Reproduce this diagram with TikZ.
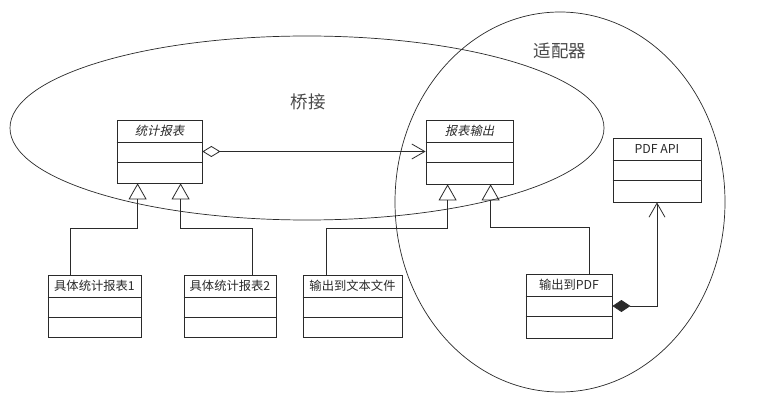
\documentclass[tikz,border=0pt]{standalone}
\usepackage{fontspec}
\setmainfont{Noto Sans CJK SC}
\newfontfamily\cjkit[FakeSlant=0.22]{Noto Sans CJK SC}
\usetikzlibrary{arrows.meta,shapes.geometric}
\definecolor{ink}{HTML}{2A2A2A}
\tikzset{
  classbox/.style={draw=ink, line width=0.8pt, rectangle, inner sep=0pt},
  cname/.style={anchor=center, inner sep=0pt, text=ink, font=\fontsize{12.3}{14}\selectfont},
  zone/.style={draw=ink, line width=0.7pt, ellipse, inner sep=0pt},
  zlabel/.style={inner sep=0pt, text=ink!85, font=\fontsize{17.5}{20}\selectfont},
  conn/.style={draw=ink, line width=0.8pt},
  inh/.style={conn, -{Triangle[open, length=16pt, width=18pt]}},
  agg/.style={conn, {Diamond[open, length=18pt, width=11pt]}-{Straight Barb[length=13pt, width=15pt]}},
  comp/.style={conn, {Diamond[length=18pt, width=12pt]}-{Straight Barb[length=14pt, width=16pt]}},
}
\newcommand{\umlcls}[6]{% name, cx, cy, w, h, text
  \node[classbox, minimum width=#4pt, minimum height=#5pt] (#1) at (#2,#3) {};
  \draw[ink, line width=0.8pt] ([yshift=-23pt]#1.north west) -- ([yshift=-23pt]#1.north east);
  \draw[ink, line width=0.8pt] ([yshift=-43pt]#1.north west) -- ([yshift=-43pt]#1.north east);
  \node[cname] (#1t) at ([yshift=-11.5pt]#1.north) {#6};
}
\begin{document}
\begin{tikzpicture}[x=1pt,y=-1pt]
\useasboundingbox[fill=white] (0,0) rectangle (770,411);
% zones
\node[zone, minimum width=594pt, minimum height=184pt] (bridge) at (307,128) {};
\node[zone, minimum width=330pt, minimum height=380pt] (adapter) at (560,202) {};
\node[zlabel] (bridgel) at (308,102) {桥接};
\node[zlabel] (adapterl) at (560,51) {适配器};
% classes
\umlcls{A}{159.5}{151.5}{85}{63}{\cjkit 统计报表}
\umlcls{B}{469.5}{152}{87}{64}{\cjkit 报表输出}
\umlcls{C}{657}{170}{88}{64}{PDF API}
\umlcls{D}{569}{306}{86}{64}{输出到PDF}
\umlcls{E}{352.5}{306}{99}{62}{输出到文本文件}
\umlcls{F}{94.5}{306}{93}{62}{具体统计报表1}
\umlcls{G}{230}{306}{92}{62}{具体统计报表2}
% generalizations
\draw[inh] ([xshift=23pt]F.north west) -- ++(0,-46) -| ([xshift=21pt]A.south west);
\draw[inh] ([xshift=69pt]G.north west) -- ++(0,-46) -| ([xshift=64pt]A.south west);
\draw[inh] ([xshift=24pt]E.north west) -- ++(0,-46) -| ([xshift=22pt]B.south west);
\draw[inh] ([xshift=64pt]D.north west) -- ++(0,-46) -| ([xshift=65pt]B.south west);
% aggregation and composition
\draw[agg] (A.east) -- (A.east -| B.west);
\draw[comp] (D.east) -| (C.south);
\end{tikzpicture}
\end{document}
